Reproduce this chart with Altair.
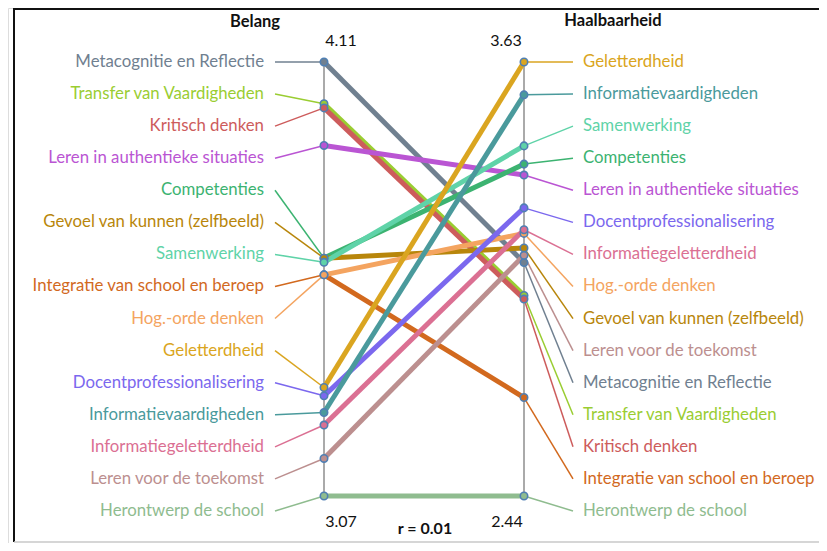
import altair as alt
import pandas as pd

categories = [
    "Metacognitie en Reflectie", "Transfer van Vaardigheden", "Kritisch denken",
    "Leren in authentieke situaties", "Competenties", "Gevoel van kunnen (zelfbeeld)",
    "Samenwerking", "Integratie van school en beroep", "Hog.-orde denken",
    "Geletterdheid", "Docentprofessionalisering", "Informatievaardigheden",
    "Informatiegeletterdheid", "Leren voor de toekomst", "Herontwerp de school",
]
belang = [4.11, 4.01, 4.00, 3.91, 3.64, 3.64, 3.63, 3.60, 3.60, 3.33, 3.31, 3.27, 3.24, 3.16, 3.07]
haalbaarheid = [3.08, 2.99, 2.98, 3.32, 3.35, 3.12, 3.40, 2.71, 3.16, 3.63, 3.23, 3.54, 3.17, 3.10, 2.44]
colors = [
    "#708090", "#9acd32", "#cd5c5c", "#ba55d3", "#3cb371", "#b8860b",
    "#5fd3a8", "#d2691e", "#f4a460", "#daa520", "#7b68ee", "#4a9a9c",
    "#db7093", "#bc8f8f", "#8fbc8f",
]
correlation_label = "r = 0.01"
left_title = "Belang"
right_title = "Haalbaarheid"

FONT = "Lato"
LABEL_SIZE = 16.8
W, H = 811, 535
SLOT = 32.07 / 434.0  # label slot spacing in normalised units

df = pd.DataFrame({"cat": categories, "belang": belang, "haal": haalbaarheid})
bmin, bmax = min(belang), max(belang)
hmin, hmax = min(haalbaarheid), max(haalbaarheid)
df["lpos"] = (df["belang"] - bmin) / (bmax - bmin)
df["rpos"] = (df["haal"] - hmin) / (hmax - hmin)
df["lslot"] = 1 - (df["belang"].rank(method="first", ascending=False) - 1) * SLOT
df["rslot"] = 1 - (df["haal"].rank(method="first", ascending=False) - 1) * SLOT

yscale = alt.Scale(domain=[0, 1], range=[488, 54])
color = alt.Color("cat:N", scale=alt.Scale(domain=categories, range=colors), legend=None)

def Y(f):
    return alt.Y(f"{f}:Q", scale=yscale, axis=None)

def Y2(f):
    return alt.Y2(f"{f}:Q")

base = alt.Chart(df)
one = alt.Chart(pd.DataFrame({"a": [0]}))

XL_LABEL, XL_CONN, XL_AXIS = 256, 267, 316
XR_AXIS, XR_CONN, XR_LABEL = 516, 565, 575

frame = alt.layer(
    one.mark_rule(color="#111111", strokeWidth=2).encode(x=alt.value(6), y=alt.value(0), y2=alt.value(534)),
    one.mark_rule(color="#111111", strokeWidth=2).encode(x=alt.value(6), x2=alt.value(W), y=alt.value(1)),
    one.mark_rule(color="#c8c8c8", strokeWidth=1.5).encode(x=alt.value(6), x2=alt.value(W), y=alt.value(534)),
)

axes = alt.layer(
    one.mark_rule(color="#aaaaaa", strokeWidth=2).encode(x=alt.value(XL_AXIS), y=alt.value(54), y2=alt.value(488)),
    one.mark_rule(color="#aaaaaa", strokeWidth=2).encode(x=alt.value(XR_AXIS), y=alt.value(54), y2=alt.value(488)),
)

left_conn = base.mark_rule(strokeWidth=1.5).encode(
    x=alt.value(XL_CONN), x2=alt.value(XL_AXIS), y=Y("lslot"), y2=Y2("lpos"), color=color)
right_conn = base.mark_rule(strokeWidth=1.5).encode(
    x=alt.value(XR_AXIS), x2=alt.value(XR_CONN), y=Y("rpos"), y2=Y2("rslot"), color=color)
middle = base.mark_rule(strokeWidth=5).encode(
    x=alt.value(XL_AXIS), x2=alt.value(XR_AXIS), y=Y("lpos"), y2=Y2("rpos"), color=color)

pts_l = base.mark_circle(size=55, stroke="#4f7fb3", strokeWidth=1.6, opacity=1).encode(
    x=alt.value(XL_AXIS), y=Y("lpos"), color=color)
pts_r = base.mark_circle(size=55, stroke="#4f7fb3", strokeWidth=1.6, opacity=1).encode(
    x=alt.value(XR_AXIS), y=Y("rpos"), color=color)

lab_l = base.mark_text(align="right", baseline="middle", font=FONT, fontSize=LABEL_SIZE).encode(
    x=alt.value(XL_LABEL), y=Y("lslot"), text="cat:N", color=color)
lab_r = base.mark_text(align="left", baseline="middle", font=FONT, fontSize=LABEL_SIZE).encode(
    x=alt.value(XR_LABEL), y=Y("rslot"), text="cat:N", color=color)

def note(txt, x, y, bold=False, size=16):
    return one.mark_text(text=txt, align="center", baseline="middle", font=FONT, fontSize=size,
                         fontWeight="bold" if bold else "normal", color="#111111").encode(
        x=alt.value(x), y=alt.value(y))

notes = alt.layer(
    note(left_title, 247, 14, bold=True, size=16.5),
    note(right_title, 605, 13, bold=True, size=16.5),
    note(f"{bmax:.2f}", 333, 33),
    note(f"{hmax:.2f}", 498, 33),
    note(f"{bmin:.2f}", 333, 514),
    note(f"{hmin:.2f}", 499, 514),
    note(correlation_label, 417, 521, bold=True, size=16),
)

chart = alt.layer(
    frame, axes, left_conn, right_conn, middle, pts_l, pts_r, lab_l, lab_r, notes
).properties(
    width=W, height=H, autosize=alt.AutoSizeParams(type="none"), padding=0
).configure_view(stroke=None).configure(background="white")

chart.save("out.html", embed_options={"renderer": "svg", "actions": False})
